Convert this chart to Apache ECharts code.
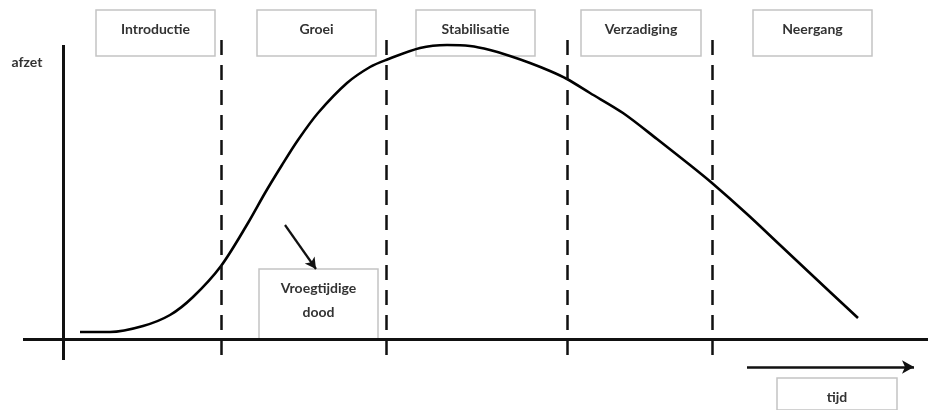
<!DOCTYPE html>
<html>
<head>
<meta charset="utf-8">
<script src="https://cdn.jsdelivr.net/npm/echarts@6/dist/echarts.min.js"></script>
<style>
  html, body { margin: 0; padding: 0; background: #fff; }
  #chart { width: 928px; height: 410px; }
</style>
</head>
<body>
<div id="chart"></div>
<script>
// levenscyclus: afzet tegen tijd
const stageNames = ["Introductie", "Groei", "Stabilisatie", "Verzadiging", "Neergang"];
const dividerX = [158, 323, 504, 649];

// curve (tijd, afzet)
const curveX = [17, 47, 80, 107, 130, 158, 185, 202, 219, 235, 255, 284, 307, 323, 357, 384, 407, 427, 447, 467, 487, 504, 527, 560, 594, 627, 649, 684, 717, 750, 795];
const curveY = [7, 7, 13, 24, 42, 73, 116, 146, 174, 199, 226, 256, 272, 279, 291, 294, 293, 289, 283, 276, 268, 260, 246, 226, 200, 174, 156, 125, 94, 63, 21];

const yLabel = "afzet";
const xLabel = "tijd";
const earlyDeathLabel = "Vroegtijdige\ndood";

// box extents (x0, x1) for the stage boxes
const stageBoxX = [[33, 152], [194, 313], [353, 472], [518, 638], [690, 809]];
const stageBoxY = [283, 329];

let chart = echarts.init(document.getElementById("chart"));

const textStyle = {
  color: "#333",
  fontFamily: "Lato",
  fontWeight: "bold",
  fontSize: 14,
};

const boxStyle = {
  color: "#fff",
  borderColor: "#c4c4c4",
  borderWidth: 1.5,
  opacity: 1,
};

let boxes = stageNames.map((name, i) => [
  {
    name: name,
    coord: [stageBoxX[i][0], stageBoxY[1]],
  },
  { coord: [stageBoxX[i][1], stageBoxY[0]] },
]);
boxes.push([{ name: earlyDeathLabel, coord: [196, 70] }, { coord: [315, 0] }]);
boxes.push([{ name: xLabel, coord: [714, -39] }, { coord: [834, -71] }]);

let dividers = dividerX.map((x) => [{ coord: [x, 299] }, { coord: [x, -16] }]);

let option = {
  animation: false,
  grid: { left: 0, right: 0, top: 0, bottom: 0 },
  xAxis: {
    type: "value",
    min: -63,
    max: 865,
    show: false,
  },
  yAxis: {
    type: "value",
    min: -71,
    max: 339,
    show: false,
  },
  series: [
    {
      // boxes behind everything
      type: "line",
      data: [],
      silent: true,
      z: 1,
      markArea: {
        silent: true,
        itemStyle: boxStyle,
        label: {
          show: true,
          position: "insideTop",
          distance: 8,
          lineHeight: 24,
          ...textStyle,
        },
        data: boxes,
      },
    },
    {
      // axes, dividers and arrows
      type: "line",
      data: [],
      silent: true,
      z: 3,
      markLine: {
        silent: true,
        symbol: "none",
        label: { show: false },
        lineStyle: { color: "#111", width: 3, type: "solid" },
        data: [
          [{ coord: [-40, 0] }, { coord: [865, 0] }],
          [{ coord: [0, 294] }, { coord: [0, -21] }],
          ...dividers.map((d) => [
            { ...d[0], lineStyle: { type: [15, 10], width: 2.5, color: "#111" } },
            d[1],
          ]),
          [
            { coord: [222, 114], symbol: "none", lineStyle: { width: 2.2, color: "#111" } },
            { coord: [253, 70], symbol: "arrow", symbolSize: [9, 11] },
          ],
          [
            { coord: [684, -28], symbol: "none", lineStyle: { width: 2.5, color: "#111" } },
            { coord: [851, -28], symbol: "arrow", symbolSize: [10, 12] },
          ],
        ],
      },
      markPoint: {
        silent: true,
        symbol: "circle",
        symbolSize: 0,
        label: { show: true, position: "inside", ...textStyle },
        data: [{ name: yLabel, coord: [-36, 277], value: yLabel }],
      },
    },
    {
      name: yLabel,
      type: "line",
      data: curveX.map((x, i) => [x, curveY[i]]),
      showSymbol: false,
      smooth: 0.3,
      clip: false,
      silent: true,
      z: 4,
      lineStyle: { color: "#000", width: 2.6 },
    },
  ],
};

chart.setOption(option);
</script>
</body>
</html>
